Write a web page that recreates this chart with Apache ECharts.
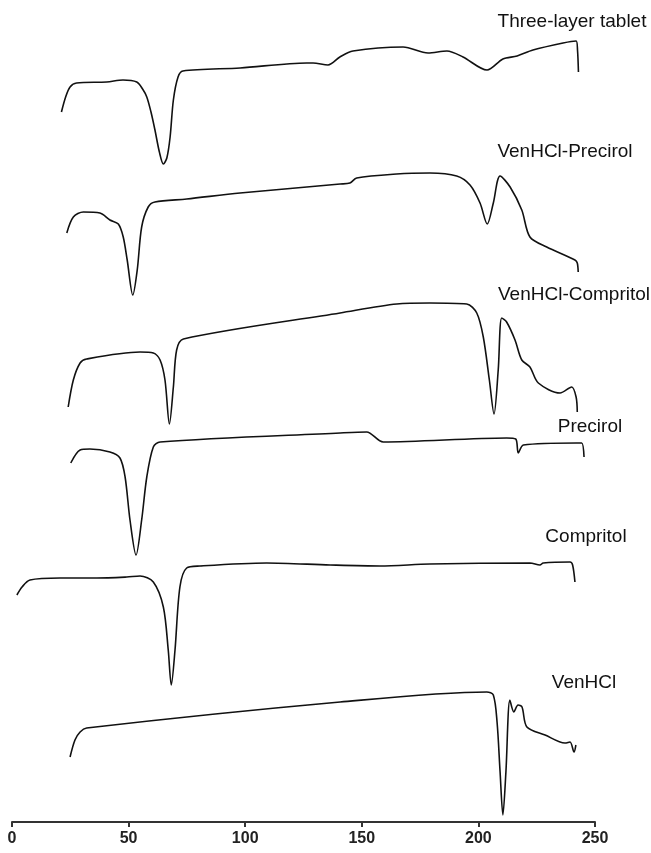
<!DOCTYPE html>
<html>
<head>
<meta charset="utf-8">
<script src="https://cdn.jsdelivr.net/npm/echarts@6/dist/echarts.min.js"></script>
<style>
html,body{margin:0;padding:0;background:#fff;}
#chart{width:651px;height:853px;}
</style>
</head>
<body>
<div id="chart"></div>
<script>
// Temperature (°C) and stacked heat-flow signal (arbitrary units, offset per curve)
const xTicks = [0, 50, 100, 150, 200, 250];
const seriesNames = ["Three-layer tablet", "VenHCl-Precirol", "VenHCl-Compritol", "Precirol", "Compritol", "VenHCl"];

const threeLayer = [
  [21.2,710],[23.0,725],[24.9,735],[27.7,739],[40.6,740],[47.6,742],[53.5,740],[56.0,733],[57.8,725],
  [59.6,710],[61.3,692],[63.2,670],[64.9,658],[66.4,664],[67.8,685],[69.2,722],[71.2,745],[73.3,751],[97.8,754],[126.4,759],
  [129.1,759],[135.5,757],[140.6,765],[146.2,771],[167.7,775],[178.4,769],[186.5,771],
  [193.4,765],[203.7,752],[210.5,763],[216.6,766],[223.4,772],[236.3,779],[241.9,781],
  [242.5,772],[242.9,750]
];
const venPrecirol = [
  [23.5,589],[26.3,605],[30.6,610],[37.7,609],[42.0,602],[45.6,598],[47.7,585],[49.4,562],
  [51.8,527],[53.7,552],[55.6,595],[58.4,615],[61.3,620],[74.9,623],[97.8,629],[140.7,638],
  [144.9,639],[147.8,644],[164.9,648],[179.2,649],[190.7,646],[196.4,637],[200.7,619],
  [203.8,598],[206.4,619],[209.3,646],[213.6,635],[218.6,612],[222.1,585],[229.3,575],
  [241.4,562],[242.4,559],[242.8,550]
];
const venCompritol = [
  [24.1,415],[26.3,442],[29.2,459],[32.0,463],[54.9,470],[60.6,469],[63.5,462],[65.6,442],
  [67.5,398],[69.2,435],[70.6,472],[73.5,483],[140.7,509],[165.0,518],[179.2,519],[195.0,518],
  [199.3,509],[202.1,485],[204.7,442],[206.7,408],[208.5,452],[210.0,504],[212.1,500],
  [215.7,482],[218.6,462],[222.1,455],[225.7,439],[235.0,429],[240.0,435],[241.9,425],[242.4,410]
];
const precirol = [
  [25.2,359],[29.2,372],[33.4,373],[42.0,370],[46.3,364],[48.5,345],[50.6,302],[53.2,267],
  [55.6,302],[57.8,345],[60.6,375],[63.5,380],[140.7,389],[152.1,390],[159.2,380],[212.1,384],
  [216.0,383],[217.1,369],[219.3,377],[242.1,379],[244.3,379],[245.3,365]
];
const compritol = [
  [2.1,227],[4.3,235],[7.7,242],[20.6,244],[36.3,244],[49.2,245],[54.9,246],[60.6,240],
  [64.9,215],[67.0,172],[68.3,137],[69.9,172],[72.0,235],[74.9,254],[80.6,256],[109.2,259],
  [136.4,257],[157.8,256],[179.2,258],[222.1,259],[226.4,257],[227.8,259],[239.3,260],
  [240.4,257],[241.4,240]
];
const venHCl = [
  [24.9,65],[27.0,82],[29.2,90],[32.0,94],[140.7,120],[203.6,130],[206.4,127],[208.0,100],
  [209.3,50],[210.5,7],[211.8,50],[213.5,122],[215.2,110],[217.0,117],[218.7,115],[220.8,95],
  [228.6,87],[237.1,79],[239.3,80],[241.0,70],[241.8,77]
];

const allData = [threeLayer, venPrecirol, venCompritol, precirol, compritol, venHCl];

const chart = echarts.init(document.getElementById('chart'));
const labelFont = 'Liberation Sans, Arial, sans-serif';
const labelPos = [
  [572, 22], [565, 152], [574, 295], [590, 427], [586, 537], [584, 683]
];

chart.setOption({
  animation: false,
  backgroundColor: '#fff',
  grid: {left: 12, right: 56, top: 0, bottom: 31, containLabel: false},
  xAxis: {
    type: 'value', min: 0, max: 250, interval: 50,
    axisLine: {show: true, lineStyle: {color: '#333', width: 2}},
    axisTick: {show: true, length: 5, lineStyle: {color: '#333', width: 2}},
    axisLabel: {color: '#222', fontSize: 16, fontWeight: 'bold', fontFamily: labelFont, margin: 9,
      formatter: v => xTicks.includes(v) ? String(v) : ''},
    splitLine: {show: false}
  },
  yAxis: {type: 'value', min: 0, max: 822, show: false},
  series: allData.map((d, i) => ({
    name: seriesNames[i],
    type: 'line',
    data: d,
    showSymbol: false,
    smooth: 0.3,
    lineStyle: {color: '#111', width: 1.6}
  })),
  graphic: seriesNames.map((n, i) => ({
    type: 'text',
    x: labelPos[i][0],
    y: labelPos[i][1],
    style: {text: n, fill: '#111', font: '19px ' + labelFont, textAlign: 'center', textVerticalAlign: 'middle'}
  }))
});
</script>
</body>
</html>
